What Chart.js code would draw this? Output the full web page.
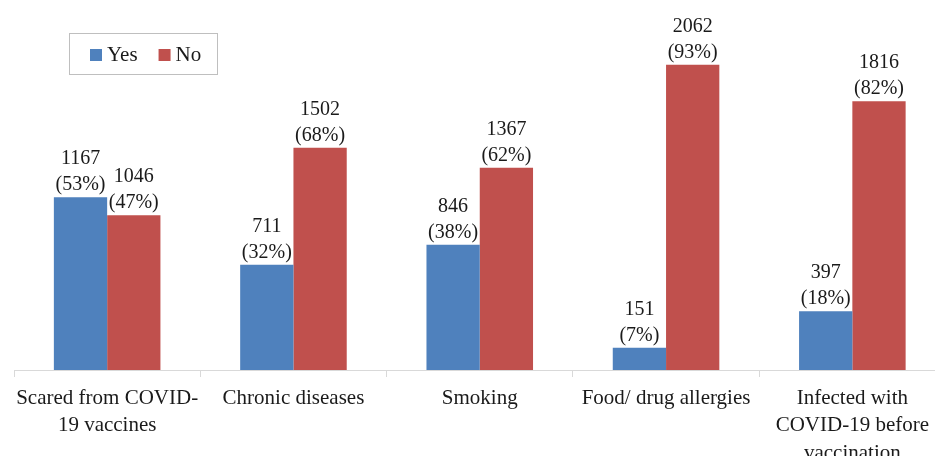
<!DOCTYPE html>
<html>
<head>
<meta charset="utf-8">
<script src="https://cdn.jsdelivr.net/npm/chart.js@4/dist/chart.umd.min.js"></script>
<style>
  html, body { margin: 0; padding: 0; background: #fff; overflow: hidden; }
  #wrap { width: 950px; height: 456px; }
</style>
</head>
<body>
<div id="wrap"><canvas id="c" width="950" height="456"></canvas></div>
<script>
// Survey responses (n = 2213)
const categories = [
  ['Scared from COVID-', '19 vaccines'],
  ['Chronic diseases'],
  ['Smoking'],
  ['Food/ drug allergies'],
  ['Infected with', 'COVID-19 before', 'vaccination']
];
const yesCounts = [1167, 711, 846, 151, 397];
const noCounts  = [1046, 1502, 1367, 2062, 1816];
const yesPct = [53, 32, 38, 7, 18];
const noPct  = [47, 68, 62, 93, 82];

const FONT = '"Liberation Serif", "Times New Roman", serif';
const BLUE = '#4F81BD';
const RED = '#C0504D';

// Two-line value labels above each bar: count, then percentage
const valueLabels = {
  id: 'valueLabels',
  afterDatasetsDraw(chart) {
    const ctx = chart.ctx;
    ctx.save();
    ctx.font = '20px ' + FONT;
    ctx.fillStyle = '#1a1a1a';
    ctx.textAlign = 'center';
    ctx.textBaseline = 'alphabetic';
    chart.data.datasets.forEach((ds, di) => {
      const meta = chart.getDatasetMeta(di);
      meta.data.forEach((bar, i) => {
        ctx.fillText(String(ds.data[i]), bar.x, bar.y - 33);
        ctx.fillText('(' + ds.pct[i] + '%)', bar.x, bar.y - 7);
      });
    });
    ctx.restore();
  }
};

// Boxed legend sitting inside the plot area
const boxLegend = {
  id: 'boxLegend',
  afterDraw(chart) {
    const ctx = chart.ctx;
    ctx.save();
    ctx.strokeStyle = '#bfbfbf';
    ctx.lineWidth = 1;
    ctx.strokeRect(69.5, 33.5, 148, 41);
    ctx.font = '21px ' + FONT;
    ctx.textBaseline = 'alphabetic';
    ctx.textAlign = 'left';
    let x = 90;
    chart.data.datasets.forEach(ds => {
      ctx.fillStyle = ds.backgroundColor;
      ctx.fillRect(x, 49, 12, 12);
      ctx.fillStyle = '#1a1a1a';
      ctx.fillText(ds.label, x + 17, 61);
      x += 17 + ctx.measureText(ds.label).width + 21;
    });
    ctx.restore();
  }
};

new Chart(document.getElementById('c'), {
  type: 'bar',
  data: {
    labels: categories,
    datasets: [
      { label: 'Yes', data: yesCounts, pct: yesPct, backgroundColor: BLUE },
      { label: 'No', data: noCounts, pct: noPct, backgroundColor: RED }
    ]
  },
  options: {
    responsive: false,
    animation: false,
    layout: { padding: { left: 14, right: 4.5, top: 0, bottom: 0 } },
    datasets: { bar: { barPercentage: 1, categoryPercentage: 0.572 } },
    plugins: { legend: { display: false }, tooltip: { enabled: false } },
    scales: {
      x: {
        offset: true,
        grid: { drawOnChartArea: false, drawTicks: true, tickLength: 7, color: '#d9d9d9', offset: true },
        border: { display: true, color: '#d9d9d9', width: 1 },
        ticks: { color: '#1a1a1a', font: { family: FONT, size: 21, lineHeight: 1.3 }, padding: 8, maxRotation: 0, autoSkip: false },
        afterFit(scale) { scale.height = 86; }
      },
      y: { display: false, min: 0, max: 2500 }
    }
  },
  plugins: [valueLabels, boxLegend]
});
</script>
</body>
</html>
